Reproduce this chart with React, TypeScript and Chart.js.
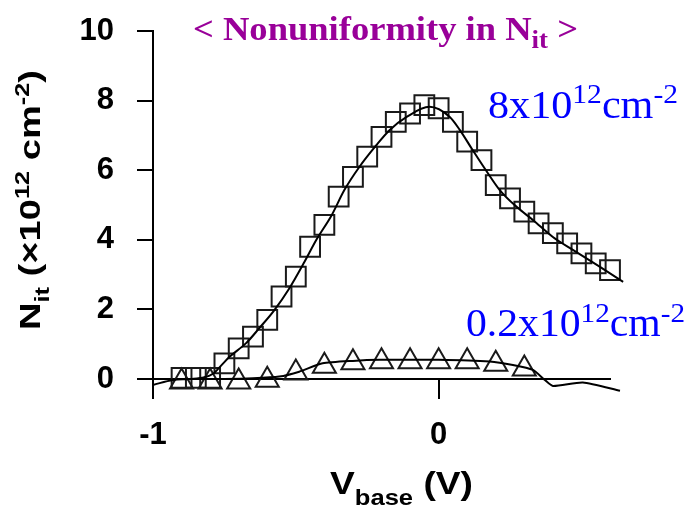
import React, { useEffect, useRef } from "react";
import { Chart, registerables } from "chart.js";

Chart.register(...registerables);

// Measured points, high-nonuniformity sample (squares)
const squareVbase = [
  -0.9, -0.85, -0.8, -0.75, -0.7, -0.65, -0.6, -0.55, -0.5, -0.45, -0.4, -0.35, -0.3, -0.25, -0.2, -0.15,
  -0.1, -0.05, 0.0, 0.05, 0.1, 0.15, 0.2, 0.25, 0.3, 0.35, 0.4, 0.45, 0.5, 0.55, 0.6,
];
const squareNit = [
  0.03, 0.03, 0.03, 0.45, 0.88, 1.22, 1.7, 2.37, 2.94, 3.8, 4.43, 5.24, 5.81, 6.39, 6.96, 7.39,
  7.63, 7.87, 7.78, 7.39, 6.82, 6.29, 5.57, 5.19, 4.81, 4.47, 4.19, 3.9, 3.61, 3.32, 3.13,
];

// Measured points, low-nonuniformity sample (triangles)
const triangleVbase = [-0.9, -0.8, -0.7, -0.6, -0.5, -0.4, -0.3, -0.2, -0.1, 0.0, 0.1, 0.2, 0.3];
const triangleNit = [-0.08, -0.08, -0.08, -0.03, 0.18, 0.37, 0.47, 0.5, 0.5, 0.5, 0.5, 0.43, 0.29];

// Fitted curves
const fitHighVbase = [
  -1.0, -0.93, -0.87, -0.82, -0.79, -0.76, -0.733, -0.674, -0.628, -0.575, -0.523, -0.47, -0.428, -0.375,
  -0.33, -0.277, -0.218, -0.172, -0.112, -0.032, 0.039, 0.074, 0.119, 0.172, 0.214, 0.274, 0.33, 0.4,
  0.47, 0.565, 0.646,
];
const fitHighNit = [
  -0.17, -0.03, 0.0, 0.05, 0.15, 0.4, 0.63, 1.03, 1.46, 1.98, 2.6, 3.36, 4.0, 4.7,
  5.43, 6.1, 6.72, 7.15, 7.53, 7.82, 7.53, 7.16, 6.58, 5.92, 5.43, 4.94, 4.57, 4.08,
  3.71, 3.22, 2.79,
];
const fitLowVbase = [
  -0.87, -0.75, -0.65, -0.558, -0.488, -0.406, -0.3, -0.207, 0.0, 0.179, 0.26, 0.33, 0.372, 0.4, 0.505, 0.635,
];
const fitLowNit = [
  0.0, 0.0, 0.02, 0.07, 0.21, 0.45, 0.52, 0.55, 0.55, 0.5, 0.4, 0.26, -0.03, -0.2, -0.1, -0.34,
];

const xTickValues = [-1, 0];
const yTickValues = [0, 2, 4, 6, 8, 10];

const SANS = "'Liberation Sans', Arial, sans-serif";
const SERIF = "'Liberation Serif', 'Times New Roman', serif";

type Run = { text: string; size: number; weight?: string; family: string; shift?: number };

// Draws a run of mixed-size text (sub/superscripts), stretched to a given width
function drawRich(
  ctx: CanvasRenderingContext2D,
  runs: Run[],
  x: number,
  y: number,
  width: number,
  color: string,
  rotate = false
) {
  ctx.save();
  const widths = runs.map((r) => {
    ctx.font = `${r.weight || "normal"} ${r.size}px ${r.family}`;
    return ctx.measureText(r.text).width;
  });
  const total = widths.reduce((a, b) => a + b, 0);
  ctx.translate(x, y);
  if (rotate) ctx.rotate(-Math.PI / 2);
  ctx.scale(width / total, 1);
  ctx.fillStyle = color;
  ctx.textBaseline = "alphabetic";
  ctx.textAlign = "left";
  let cx = 0;
  runs.forEach((r, i) => {
    ctx.font = `${r.weight || "normal"} ${r.size}px ${r.family}`;
    ctx.fillText(r.text, cx, r.shift || 0);
    cx += widths[i];
  });
  ctx.restore();
}

const textPlugin = {
  id: "richText",
  afterDraw(chart: Chart) {
    const ctx = chart.ctx;
    // heading
    drawRich(
      ctx,
      [
        { text: "< Nonuniformity in N", size: 34, weight: "bold", family: SERIF },
        { text: "it", size: 25, weight: "bold", family: SERIF, shift: 8 },
        { text: " >", size: 34, weight: "bold", family: SERIF },
      ],
      193,
      40,
      385,
      "#990099"
    );
    // curve annotations
    drawRich(
      ctx,
      [
        { text: "8x10", size: 40, family: SERIF },
        { text: "12", size: 28, family: SERIF, shift: -15 },
        { text: "cm", size: 40, family: SERIF },
        { text: "-2", size: 28, family: SERIF, shift: -15 },
      ],
      488,
      118,
      190,
      "#0000ff"
    );
    drawRich(
      ctx,
      [
        { text: "0.2x10", size: 40, family: SERIF },
        { text: "12", size: 28, family: SERIF, shift: -14 },
        { text: "cm", size: 40, family: SERIF },
        { text: "-2", size: 28, family: SERIF, shift: -14 },
      ],
      466,
      336,
      219,
      "#0000ff"
    );
    // y axis title
    drawRich(
      ctx,
      [
        { text: "N", size: 30, weight: "bold", family: SANS },
        { text: "it", size: 20, weight: "bold", family: SANS, shift: 9 },
        { text: " (×10", size: 30, weight: "bold", family: SANS },
        { text: "12", size: 20, weight: "bold", family: SANS, shift: -11 },
        { text: " cm", size: 30, weight: "bold", family: SANS },
        { text: "-2", size: 20, weight: "bold", family: SANS, shift: -11 },
        { text: ")", size: 30, weight: "bold", family: SANS },
      ],
      40,
      330,
      260,
      "#000",
      true
    );
    // x axis title
    drawRich(
      ctx,
      [
        { text: "V", size: 32, weight: "bold", family: SANS },
        { text: "base", size: 22, weight: "bold", family: SANS, shift: 11 },
        { text: " (V)", size: 32, weight: "bold", family: SANS },
      ],
      330,
      494,
      143,
      "#000"
    );
  },
};

const toPoints = (xs: number[], ys: number[]) => xs.map((x, i) => ({ x, y: ys[i] }));

export default function App() {
  const canvasRef = useRef<HTMLCanvasElement | null>(null);

  useEffect(() => {
    if (!canvasRef.current) return;
    const ink = "#1a1a1a";
    const chart = new Chart(canvasRef.current, {
      type: "scatter",
      data: {
        datasets: [
          {
            label: "fit high",
            data: toPoints(fitHighVbase, fitHighNit),
            showLine: true,
            borderColor: "#000",
            borderWidth: 2,
            pointRadius: 0,
            cubicInterpolationMode: "monotone",
            clip: false,
          },
          {
            label: "fit low",
            data: toPoints(fitLowVbase, fitLowNit),
            showLine: true,
            borderColor: "#000",
            borderWidth: 2,
            pointRadius: 0,
            tension: 0.2,
            clip: false,
          },
          {
            label: "8x10^12",
            data: toPoints(squareVbase, squareNit),
            showLine: false,
            pointStyle: "rect",
            pointRadius: 14,
            pointBorderWidth: 2,
            pointBorderColor: ink,
            pointBackgroundColor: "rgba(0,0,0,0)",
            clip: false,
          },
          {
            label: "0.2x10^12",
            data: toPoints(triangleVbase, triangleNit),
            showLine: false,
            pointStyle: "triangle",
            pointRadius: 13.3,
            pointBorderWidth: 2,
            pointBorderColor: ink,
            pointBackgroundColor: "rgba(0,0,0,0)",
            clip: false,
          },
        ],
      },
      options: {
        responsive: false,
        animation: false,
        events: [],
        layout: { padding: { left: 0, top: 31, right: 79, bottom: 0 } },
        plugins: { legend: { display: false }, tooltip: { enabled: false } },
        scales: {
          x: {
            type: "linear",
            min: -1,
            max: 0.6,
            afterBuildTicks: (scale: any) => {
              scale.ticks = xTickValues.map((v) => ({ value: v }));
            },
            afterFit: (scale: any) => {
              scale.height = 129;
              scale.paddingLeft = 0;
              scale.paddingRight = 0;
            },
            border: { display: true, color: "#000", width: 2 },
            grid: { drawOnChartArea: false, drawTicks: true, tickLength: 20, color: "#000", lineWidth: 2 },
            ticks: {
              color: "#000",
              padding: 18,
              font: { family: SANS, size: 31, weight: "bold" },
              callback: (v: any) => String(v),
            },
          },
          y: {
            type: "linear",
            min: 0,
            max: 10,
            afterBuildTicks: (scale: any) => {
              scale.ticks = yTickValues.map((v) => ({ value: v }));
            },
            afterFit: (scale: any) => {
              scale.width = 153;
              scale.paddingTop = 0;
              scale.paddingBottom = 0;
            },
            border: { display: true, color: "#000", width: 2 },
            grid: { drawOnChartArea: false, drawTicks: true, tickLength: 16, color: "#000", lineWidth: 2 },
            ticks: {
              color: "#000",
              padding: 23,
              font: { family: SANS, size: 31, weight: "bold" },
              callback: (v: any) => String(v),
            },
          },
        },
      },
      plugins: [textPlugin],
    } as any);
    return () => chart.destroy();
  }, []);

  return (
    <div style={{ position: "absolute", left: 0, top: 0, width: 689, height: 508, background: "#fff" }}>
      <canvas ref={canvasRef} width={689} height={508} style={{ display: "block" }} />
    </div>
  );
}
